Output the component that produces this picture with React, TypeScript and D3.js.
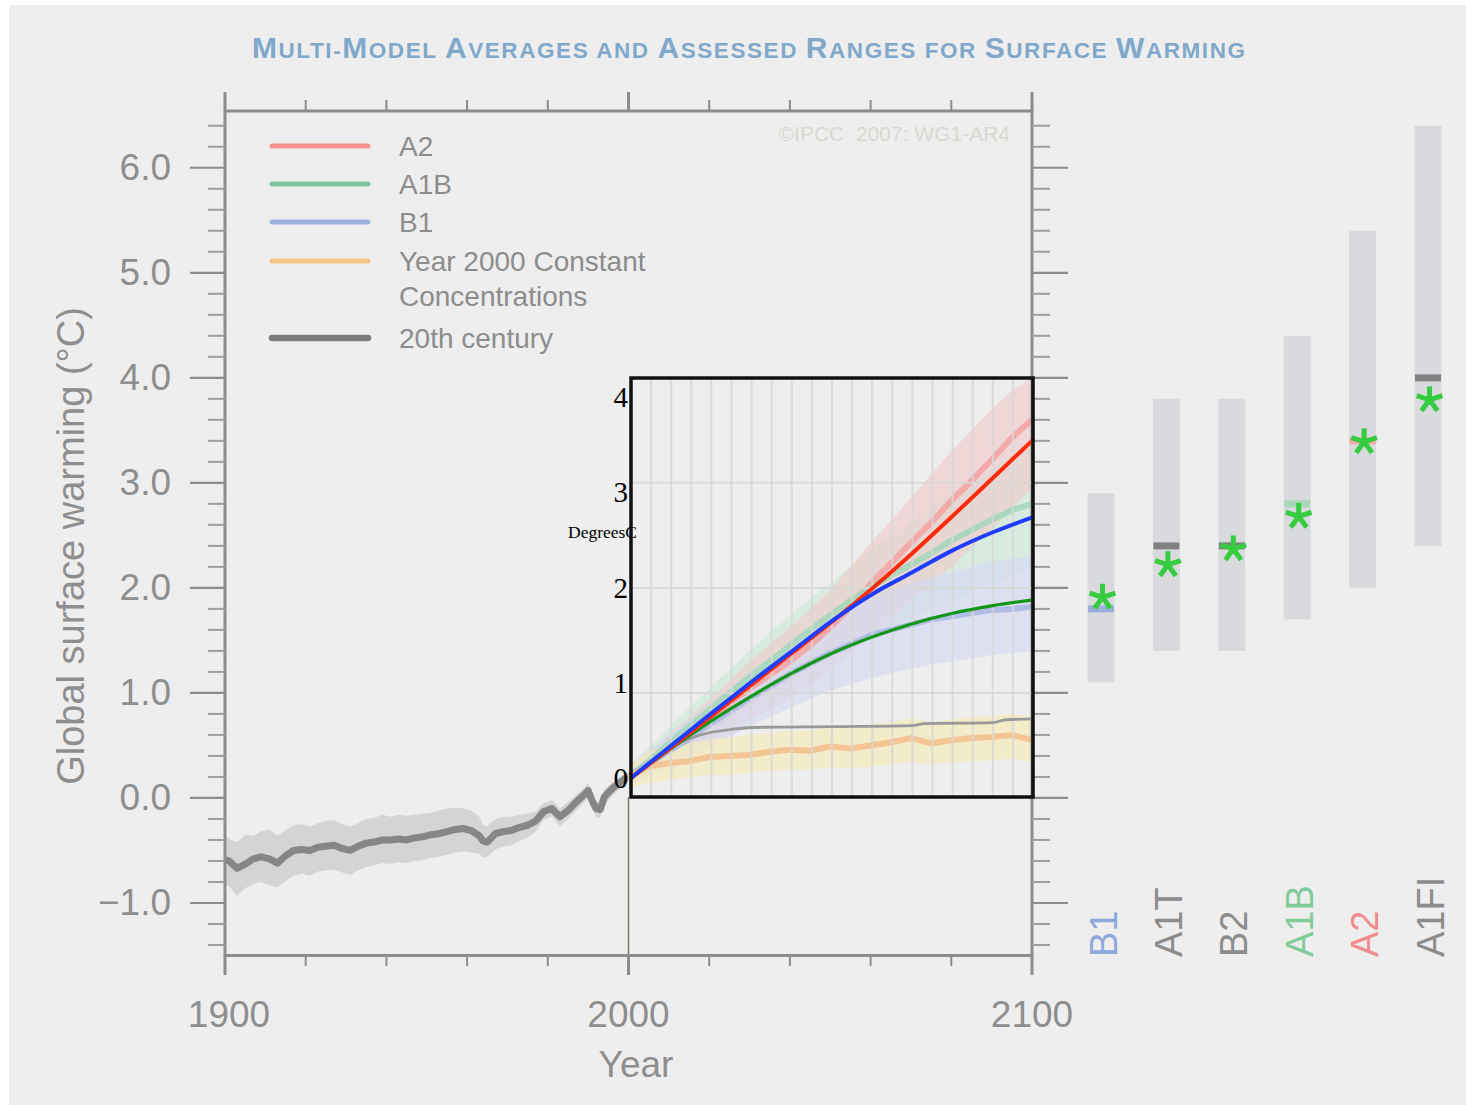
import React from 'react';
import * as d3 from 'd3';

const W = 1466;
const H = 1105;

// ---- 20th century multi-model mean and spread (°C) ----
const histYears = [1900, 1901, 1903, 1905, 1907, 1909, 1911, 1913, 1915, 1917, 1919, 1921, 1923, 1925, 1927, 1929, 1931, 1933, 1935, 1937, 1939, 1941, 1943, 1945, 1947, 1949, 1951, 1953, 1955, 1957, 1959, 1961, 1963, 1964, 1965, 1967, 1969, 1971, 1973, 1975, 1977, 1979, 1981, 1983, 1985, 1987, 1989, 1990, 1991, 1992, 1993, 1994, 1996, 1998, 2000];
const histMean = [-0.59, -0.60, -0.67, -0.63, -0.58, -0.56, -0.58, -0.62, -0.55, -0.50, -0.49, -0.50, -0.47, -0.46, -0.45, -0.48, -0.50, -0.46, -0.43, -0.42, -0.40, -0.40, -0.39, -0.40, -0.38, -0.37, -0.35, -0.34, -0.32, -0.30, -0.29, -0.31, -0.36, -0.41, -0.42, -0.34, -0.32, -0.31, -0.28, -0.26, -0.22, -0.13, -0.10, -0.18, -0.12, -0.04, 0.03, 0.07, -0.03, -0.10, -0.11, 0.01, 0.09, 0.15, 0.21];
const histUpper = [-0.36, -0.39, -0.42, -0.35, -0.36, -0.32, -0.30, -0.36, -0.31, -0.26, -0.25, -0.27, -0.24, -0.22, -0.21, -0.25, -0.27, -0.24, -0.20, -0.19, -0.16, -0.18, -0.16, -0.17, -0.16, -0.15, -0.14, -0.12, -0.10, -0.09, -0.10, -0.12, -0.18, -0.26, -0.27, -0.20, -0.18, -0.18, -0.16, -0.15, -0.13, -0.05, -0.02, -0.10, -0.04, 0.03, 0.10, 0.14, 0.04, -0.03, -0.04, 0.08, 0.15, 0.20, 0.25];
const histLower = [-0.82, -0.84, -0.93, -0.86, -0.82, -0.80, -0.83, -0.85, -0.79, -0.74, -0.72, -0.74, -0.70, -0.69, -0.68, -0.71, -0.73, -0.69, -0.66, -0.64, -0.62, -0.63, -0.61, -0.62, -0.60, -0.59, -0.57, -0.56, -0.54, -0.52, -0.51, -0.52, -0.53, -0.57, -0.56, -0.49, -0.46, -0.45, -0.41, -0.38, -0.32, -0.21, -0.18, -0.27, -0.20, -0.12, -0.04, 0.00, -0.11, -0.18, -0.19, -0.07, 0.02, 0.09, 0.16];

// ---- 21st century scenario projections (°C) ----
const projYears = [2000, 2005, 2010, 2015, 2020, 2025, 2030, 2035, 2040, 2045, 2050, 2055, 2060, 2065, 2070, 2075, 2080, 2085, 2090, 2095, 2100];
const a2Mean = [0.2, 0.33, 0.47, 0.6, 0.74, 0.9, 1.04, 1.17, 1.3, 1.45, 1.62, 1.82, 2.04, 2.23, 2.43, 2.62, 2.83, 3.02, 3.22, 3.43, 3.6];
const a2Lower = [0.12, 0.22, 0.33, 0.42, 0.52, 0.63, 0.74, 0.85, 0.95, 1.07, 1.22, 1.38, 1.55, 1.7, 1.87, 2.03, 2.2, 2.38, 2.56, 2.75, 2.95];
const a2Upper = [0.28, 0.44, 0.6, 0.76, 0.94, 1.12, 1.3, 1.46, 1.62, 1.8, 1.98, 2.2, 2.43, 2.64, 2.86, 3.08, 3.3, 3.5, 3.7, 3.88, 4.0];
const a1bMean = [0.2, 0.35, 0.52, 0.68, 0.84, 1.0, 1.15, 1.3, 1.45, 1.6, 1.74, 1.88, 2.0, 2.12, 2.22, 2.33, 2.45, 2.55, 2.65, 2.74, 2.8];
const a1bLower = [0.12, 0.24, 0.38, 0.5, 0.62, 0.74, 0.86, 0.98, 1.1, 1.21, 1.32, 1.43, 1.53, 1.62, 1.7, 1.79, 1.88, 1.96, 2.04, 2.12, 2.2];
const a1bUpper = [0.3, 0.48, 0.67, 0.86, 1.04, 1.22, 1.4, 1.57, 1.74, 1.9, 2.05, 2.2, 2.36, 2.5, 2.63, 2.76, 2.9, 3.02, 3.14, 3.26, 3.35];
const b1Mean = [0.2, 0.32, 0.45, 0.56, 0.7, 0.82, 0.95, 1.06, 1.18, 1.28, 1.38, 1.46, 1.55, 1.6, 1.65, 1.7, 1.73, 1.76, 1.79, 1.8, 1.82];
const b1Lower = [0.12, 0.2, 0.3, 0.38, 0.47, 0.58, 0.68, 0.77, 0.86, 0.94, 1.02, 1.08, 1.14, 1.19, 1.23, 1.27, 1.3, 1.33, 1.36, 1.38, 1.4];
const b1Upper = [0.3, 0.44, 0.6, 0.74, 0.88, 1.04, 1.2, 1.33, 1.46, 1.58, 1.7, 1.8, 1.9, 1.98, 2.05, 2.1, 2.15, 2.2, 2.25, 2.28, 2.3];
const constMean = [0.2, 0.3, 0.33, 0.35, 0.39, 0.4, 0.41, 0.44, 0.46, 0.45, 0.49, 0.47, 0.5, 0.53, 0.57, 0.52, 0.55, 0.57, 0.58, 0.6, 0.55];
const constLower = [0.1, 0.14, 0.17, 0.19, 0.22, 0.22, 0.24, 0.26, 0.27, 0.27, 0.29, 0.28, 0.3, 0.32, 0.34, 0.32, 0.34, 0.35, 0.36, 0.37, 0.35];
const constUpper = [0.3, 0.44, 0.5, 0.52, 0.56, 0.58, 0.6, 0.62, 0.64, 0.64, 0.68, 0.67, 0.7, 0.72, 0.76, 0.72, 0.75, 0.77, 0.78, 0.8, 0.77];

// ---- simple-model runs plotted in DegreesC panel ----
const simYears = [2000, 2010, 2020, 2030, 2040, 2050, 2060, 2070, 2080, 2090, 2100];
const simRed = [0, 0.32, 0.65, 0.98, 1.31, 1.64, 1.99, 2.36, 2.75, 3.15, 3.55];
const simBlue = [0, 0.34, 0.68, 1.01, 1.33, 1.65, 1.93, 2.16, 2.39, 2.58, 2.74];
const simGreen = [0, 0.31, 0.6, 0.86, 1.1, 1.31, 1.48, 1.62, 1.73, 1.81, 1.87];
const simGrayYears = [2000, 2005, 2010, 2015, 2020, 2025, 2030, 2050, 2070, 2073, 2090, 2093, 2100];
const simGray = [0, 0.18, 0.33, 0.42, 0.48, 0.51, 0.53, 0.54, 0.55, 0.57, 0.58, 0.61, 0.62];
const simTicks = [0, 1, 2, 3, 4];

// ---- assessed ranges at 2090-2099 ----
const scenarios = ['B1', 'A1T', 'B2', 'A1B', 'A2', 'A1FI'];
const likelyLow = [1.1, 1.4, 1.4, 1.7, 2.0, 2.4];
const likelyHigh = [2.9, 3.8, 3.8, 4.4, 5.4, 6.4];
const bestEstimate = [1.8, 2.4, 2.4, 2.8, 3.4, 4.0];
const simEstimate = [1.92, 2.23, 2.38, 2.69, 3.4, 3.8];
const scenarioColors = ['#8fa8dc', '#8c8c8c', '#8c8c8c', '#80cb9c', '#f08c8c', '#8c8c8c'];
const bestMarkColors = ['#9cafdb', '#818181', '#818181', '#a7d8ba', '#f6a8a8', '#818181'];

// ---- legend ----
const legendLabels = [['A2'], ['A1B'], ['B1'], ['Year 2000 Constant', 'Concentrations'], ['20th century']];
const legendColors = ['#f59090', '#82c59e', '#a0b1e0', '#f5c586', '#7d7d7d'];

const yTickMajor = [-1, 0, 1, 2, 3, 4, 5, 6];
const xTickMajor = [1900, 2000, 2100];

const TITLE = 'Multi-Model Averages and Assessed Ranges for Surface Warming';

const SANS = "'Liberation Sans', Arial, Helvetica, sans-serif";
const SERIF = "'Liberation Serif', 'Times New Roman', serif";
const AXIS_GREY = '#8c8c8c';

function smallCaps(text: string, big: number, small: number) {
  const runs: { t: string; size: number }[] = [];
  for (const ch of text) {
    const isBig = ch !== ch.toLowerCase() || ch === ' ';
    const size = ch === ' ' ? small : isBig ? big : small;
    const last = runs[runs.length - 1];
    if (last && last.size === size) last.t += ch.toUpperCase();
    else runs.push({ t: ch.toUpperCase(), size });
  }
  return runs;
}

function Asterisk({ cx, cy }: { cx: number; cy: number }) {
  const L = 13.5;
  const angles = [90, 18, 162, -54, -126];
  return (
    <g stroke="#35cc40" strokeWidth={5} strokeLinecap="butt">
      {angles.map((a) => {
        const r = (a * Math.PI) / 180;
        return <line key={a} x1={cx} y1={cy} x2={cx + L * Math.cos(r)} y2={cy - L * Math.sin(r)} />;
      })}
    </g>
  );
}

export default function App() {
  // main axes
  const x = d3.scaleLinear().domain([1900, 2100]).range([225, 1032]);
  const y = d3.scaleLinear().domain([-1.5, 6.55]).range([955.5, 110]);
  // DegreesC panel
  const ix = d3.scaleLinear().domain([2000, 2100]).range([631, 1033]);
  const iy = d3.scaleLinear().domain([-0.2, 4.2]).range([797, 378]);
  // scenario bars
  const xs = d3.scalePoint<string>().domain(scenarios).range([1101, 1428]);

  const plotTop = y.range()[1] + 1;
  const plotBottom = y(-1.5);
  const left = x(1900);
  const right = x(2100);

  const histIdx = d3.range(histYears.length);
  const histArea = d3
    .area<number>()
    .x((i) => x(histYears[i]))
    .y0((i) => y(histLower[i]))
    .y1((i) => y(histUpper[i]))(histIdx)!;
  const histLine = d3
    .line<number>()
    .x((i) => x(histYears[i]))
    .y((i) => y(histMean[i]))(histIdx)!;

  const projIdx = d3.range(projYears.length);
  const band = (lo: number[], hi: number[]) =>
    d3
      .area<number>()
      .x((i) => x(projYears[i]))
      .y0((i) => y(lo[i]))
      .y1((i) => y(hi[i]))(projIdx)!;
  const mean = (m: number[]) =>
    d3
      .line<number>()
      .x((i) => x(projYears[i]))
      .y((i) => y(m[i]))(projIdx)!;

  const simLine = (yrs: number[], vals: number[]) =>
    d3
      .line<number>()
      .curve(d3.curveMonotoneX)
      .x((i) => ix(yrs[i]))
      .y((i) => iy(vals[i]))(d3.range(yrs.length))!;

  const minorY = d3.range(-14, 65, 2).map((v) => v / 10).filter((v) => Math.abs(v - Math.round(v)) > 1e-6);
  const minorX = d3.range(1920, 2100, 20).filter((v) => v !== 2000);
  const gridX = d3.range(2005, 2100, 5);
  const fmt = d3.format('.1f');

  const titleRuns = smallCaps(TITLE, 30, 22.5);

  return (
    <div style={{ position: 'absolute', left: 0, top: 0 }}>
      <svg width={W} height={H} viewBox={`0 0 ${W} ${H}`} style={{ display: 'block' }}>
        <rect x={0} y={0} width={W} height={H} fill="#ffffff" />
        <rect x={9} y={5} width={W - 9} height={H - 5} fill="#eeeeee" />

        {/* title */}
        <text
          x={748.5}
          y={58}
          textAnchor="middle"
          fontFamily={SANS}
          fontWeight="bold"
          fill="#7fa8ca"
          textLength={993}
          lengthAdjust="spacing"
        >
          {titleRuns.map((r, i) => (
            <tspan key={i} fontSize={r.size}>
              {r.t}
            </tspan>
          ))}
        </text>

        {/* 20th century spread and mean */}
        <path d={histArea} fill="#d4d4d4" />
        <path d={histLine} fill="none" stroke="#868686" strokeWidth={7} strokeLinejoin="round" />

        {/* scenario spreads */}
        <path d={band(a1bLower, a1bUpper)} fill="#c6e9d6" opacity={0.55} />
        <path d={band(a2Lower, a2Upper)} fill="#f2c8c8" opacity={0.6} />
        <path d={band(b1Lower, b1Upper)} fill="#d6daf2" opacity={0.7} />
        <path d={band(constLower, constUpper)} fill="#f4ebbb" opacity={0.75} />
        <path d={mean(a2Mean)} fill="none" stroke="#f5a2a2" strokeWidth={6} opacity={0.85} strokeLinejoin="round" />
        <path d={mean(a1bMean)} fill="none" stroke="#a2d7b8" strokeWidth={6} opacity={0.85} strokeLinejoin="round" />
        <path d={mean(b1Mean)} fill="none" stroke="#a9b6e2" strokeWidth={6} opacity={0.85} strokeLinejoin="round" />
        <path d={mean(constMean)} fill="none" stroke="#f4c08e" strokeWidth={6} opacity={0.9} strokeLinejoin="round" />

        {/* year 2000 marker below the panel */}
        <line x1={x(2000)} x2={x(2000)} y1={iy(-0.2)} y2={plotBottom} stroke="#7a7a6c" strokeWidth={1.5} />

        {/* main frame */}
        <rect x={left} y={plotTop} width={right - left} height={plotBottom - plotTop} fill="none" stroke={AXIS_GREY} strokeWidth={3} />
        {xTickMajor.map((v) => (
          <g key={`xm${v}`} stroke={AXIS_GREY} strokeWidth={3}>
            <line x1={x(v)} x2={x(v)} y1={92} y2={plotTop} />
            <line x1={x(v)} x2={x(v)} y1={plotBottom} y2={975} />
          </g>
        ))}
        {minorX.map((v) => (
          <g key={`xn${v}`} stroke={AXIS_GREY} strokeWidth={2}>
            <line x1={x(v)} x2={x(v)} y1={100} y2={plotTop} />
            <line x1={x(v)} x2={x(v)} y1={plotBottom} y2={966} />
          </g>
        ))}
        {yTickMajor.map((v) => (
          <g key={`ym${v}`} stroke={AXIS_GREY} strokeWidth={2.2}>
            <line x1={190} x2={left} y1={y(v)} y2={y(v)} />
            <line x1={right} x2={1068} y1={y(v)} y2={y(v)} />
          </g>
        ))}
        {minorY.map((v) => (
          <g key={`yn${v}`} stroke="#9e9e9e" strokeWidth={2}>
            <line x1={208} x2={left} y1={y(v)} y2={y(v)} />
            <line x1={right} x2={1050} y1={y(v)} y2={y(v)} />
          </g>
        ))}
        {yTickMajor.map((v) => (
          <text
            key={`yl${v}`}
            x={171}
            y={y(v)}
            textAnchor="end"
            dominantBaseline="central"
            fontFamily={SANS}
            fontSize={37}
            fill="#8e8e8e"
          >
            {fmt(v)}
          </text>
        ))}
        {xTickMajor.map((v) => (
          <text key={`xl${v}`} x={x(v) + (v === 1900 ? 4 : 0)} y={1027} textAnchor="middle" fontFamily={SANS} fontSize={37} fill="#8e8e8e">
            {v}
          </text>
        ))}
        <text x={636} y={1077} textAnchor="middle" fontFamily={SANS} fontSize={37} fill="#8e8e8e">
          Year
        </text>
        <text
          transform="translate(84,546) rotate(-90)"
          textAnchor="middle"
          fontFamily={SANS}
          fontSize={38}
          fill="#8e8e8e"
        >
          Global surface warming (°C)
        </text>

        {/* watermark */}
        <text x={1010} y={141} textAnchor="end" fontFamily={SANS} fontSize={21} fill="#d9d9cf" style={{ whiteSpace: 'pre' }}>
          {'©IPCC  2007: WG1-AR4'}
        </text>

        {/* legend */}
        {legendLabels.map((lines, i) => {
          const rows = [146, 184, 222, 261, 338];
          const ly = rows[i];
          return (
            <g key={`lg${i}`}>
              <line
                x1={272}
                x2={368}
                y1={ly}
                y2={ly}
                stroke={legendColors[i]}
                strokeWidth={i === 4 ? 6.5 : 5}
                strokeLinecap="round"
              />
              {lines.map((t, j) => (
                <text key={j} x={399} y={ly + 10 + j * 35} fontFamily={SANS} fontSize={28} fill="#8c8c8c">
                  {t}
                </text>
              ))}
            </g>
          );
        })}

        {/* DegreesC panel: grid */}
        {gridX.map((v) => (
          <line key={`gx${v}`} x1={ix(v)} x2={ix(v)} y1={iy(4.2)} y2={iy(-0.2)} stroke="#d8d8d8" strokeWidth={2} opacity={0.85} />
        ))}
        {[1, 2, 3].map((v) => (
          <line key={`gy${v}`} x1={ix(2000)} x2={ix(2100)} y1={y(v)} y2={y(v)} stroke="#d8d8d8" strokeWidth={2} opacity={0.85} />
        ))}

        {/* DegreesC panel: runs */}
        <path d={simLine(simGrayYears, simGray)} fill="none" stroke="#999999" strokeWidth={2.8} />
        <path d={simLine(simYears, simGreen)} fill="none" stroke="#14961a" strokeWidth={3.2} />
        <path d={simLine(simYears, simRed)} fill="none" stroke="#ff2a0a" strokeWidth={4} />
        <path d={simLine(simYears, simBlue)} fill="none" stroke="#1f3dff" strokeWidth={4} />

        <rect x={ix(2000)} y={iy(4.2)} width={ix(2100) - ix(2000)} height={iy(-0.2) - iy(4.2)} fill="none" stroke="#111111" strokeWidth={3.5} />
        {simTicks.map((v) => (
          <text key={`st${v}`} x={628} y={iy(v)} textAnchor="end" dominantBaseline="central" fontFamily={SERIF} fontSize={29} fill="#000000">
            {v}
          </text>
        ))}
        <text x={568} y={538} fontFamily={SERIF} fontSize={17.5} fill="#000000">
          DegreesC
        </text>

        {/* assessed likely ranges */}
        {scenarios.map((s, i) => {
          const cx = xs(s)!;
          return (
            <g key={`sc${s}`}>
              <rect x={cx - 13.5} y={y(likelyHigh[i])} width={27} height={y(likelyLow[i]) - y(likelyHigh[i])} fill="#d9dade" />
              <rect x={cx - 13} y={y(bestEstimate[i]) - 3.5} width={26} height={7} fill={bestMarkColors[i]} />
            </g>
          );
        })}
        {scenarios.map((s, i) => (
          <Asterisk key={`as${s}`} cx={xs(s)! + 1.5} cy={y(simEstimate[i]) + 1} />
        ))}
        {scenarios.map((s, i) => (
          <text
            key={`sl${s}`}
            transform={`translate(${xs(s)! + 15.5},957) rotate(-90)`}
            fontFamily={SANS}
            fontSize={38}
            fill={scenarioColors[i]}
          >
            {s}
          </text>
        ))}
      </svg>
    </div>
  );
}
